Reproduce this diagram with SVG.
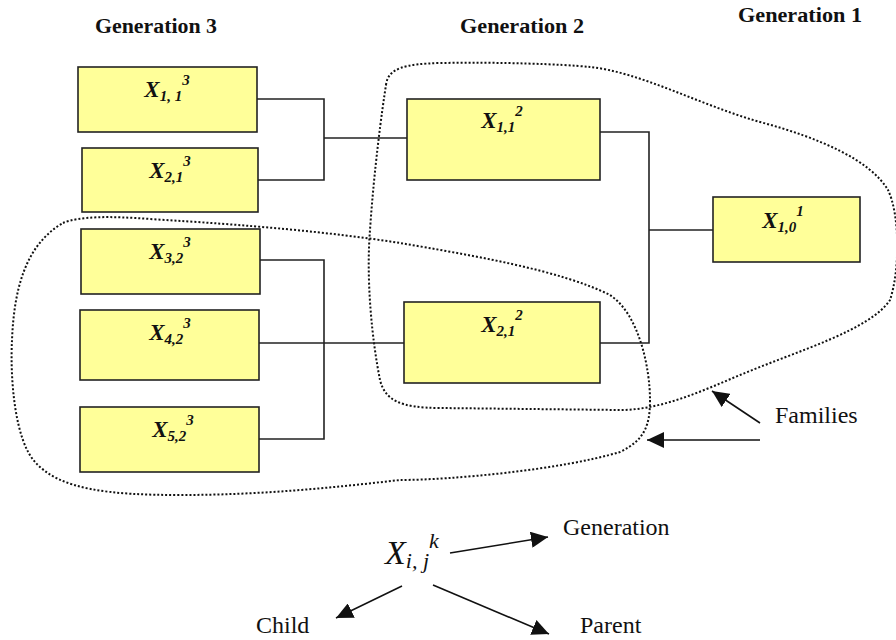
<svg xmlns="http://www.w3.org/2000/svg" width="896" height="640" viewBox="0 0 896 640">
<style>
.box{fill:#FFFF99;stroke:#222;stroke-width:1.6}
.lbl{font-family:"Liberation Serif",serif;font-weight:bold;font-style:italic;font-size:23px;fill:#111;text-anchor:middle}
.sub{font-size:15px}
.hdr{font-family:"Liberation Serif",serif;font-weight:bold;font-size:20px;fill:#111}
.txt{font-family:"Liberation Serif",serif;font-size:24px;fill:#111}
.conn{fill:none;stroke:#222;stroke-width:1.6}
.fam{fill:none;stroke:#111;stroke-width:2;stroke-dasharray:2 2}
.arr{fill:none;stroke:#111;stroke-width:1.6;marker-end:url(#ah)}
</style>
<defs>
<marker id="ah" markerUnits="userSpaceOnUse" markerWidth="18" markerHeight="16" refX="17" refY="8" orient="auto">
<path d="M0,0 L17,8 L0,16 z" fill="#111"/>
</marker>
</defs>
<rect width="896" height="640" fill="#fff"/>

<g id="headers">
<text class="hdr" x="95" y="33" textLength="122" lengthAdjust="spacingAndGlyphs">Generation 3</text>
<text class="hdr" x="460" y="33" textLength="124" lengthAdjust="spacingAndGlyphs">Generation 2</text>
<text class="hdr" x="738" y="22" textLength="124" lengthAdjust="spacingAndGlyphs">Generation 1</text>
</g>

<g id="families">
<path class="fam" d="M386,85 C388,68 405,64 440,63 C500,62 560,64 590,67 C640,72 700,105 760,122 C820,138 870,160 888,190 C900,215 900,270 890,300 C870,330 800,350 740,375 C700,392 660,410 620,410 L440,408 C400,408 385,400 380,380 C372,340 366,280 370,230 C374,170 382,110 386,85 Z"/>
<path class="fam" d="M63,223 C80,216 110,216 150,219 C250,225 330,232 400,243 C470,255 560,270 610,295 C640,315 650,370 650,400 C650,425 645,440 620,452 C560,470 450,480 400,480 C330,488 260,495 180,495 C110,495 60,490 35,462 C15,440 10,380 12,340 C14,290 25,245 63,223 Z"/>
</g>

<g id="connectors">
<path class="conn" d="M257,99 H324 V180 H258"/>
<path class="conn" d="M324,138 H407"/>
<path class="conn" d="M260,260 H324 V439 H259"/>
<path class="conn" d="M259,343 H404"/>
<path class="conn" d="M600,132 H649 V343 H600"/>
<path class="conn" d="M649,230 H713"/>
<line class="arr" x1="760" y1="423" x2="712" y2="391"/>
<line class="arr" x1="760" y1="440" x2="647" y2="440"/>
<line class="arr" x1="450" y1="553" x2="548" y2="537"/>
<line class="arr" x1="433" y1="585" x2="549" y2="634"/>
<line class="arr" x1="402" y1="586" x2="336" y2="618"/>
</g>

<g id="n-x113">
<rect class="box" x="78" y="67" width="179" height="65"/>
<text class="lbl" x="167" y="97">X<tspan class="sub" dy="4">1, 1</tspan><tspan class="sub" dy="-16">3</tspan></text>
</g>
<g id="n-x213">
<rect class="box" x="82" y="148" width="176" height="64"/>
<text class="lbl" x="170" y="178">X<tspan class="sub" dy="4">2,1</tspan><tspan class="sub" dy="-16">3</tspan></text>
</g>
<g id="n-x323">
<rect class="box" x="81" y="229" width="179" height="65"/>
<text class="lbl" x="170" y="259">X<tspan class="sub" dy="4">3,2</tspan><tspan class="sub" dy="-16">3</tspan></text>
</g>
<g id="n-x423">
<rect class="box" x="80" y="310" width="179" height="70"/>
<text class="lbl" x="170" y="340">X<tspan class="sub" dy="4">4,2</tspan><tspan class="sub" dy="-16">3</tspan></text>
</g>
<g id="n-x523">
<rect class="box" x="80" y="407" width="179" height="65"/>
<text class="lbl" x="173" y="437">X<tspan class="sub" dy="4">5,2</tspan><tspan class="sub" dy="-16">3</tspan></text>
</g>
<g id="n-x112">
<rect class="box" x="407" y="99" width="193" height="81"/>
<text class="lbl" x="502" y="128">X<tspan class="sub" dy="4">1,1</tspan><tspan class="sub" dy="-16">2</tspan></text>
</g>
<g id="n-x212">
<rect class="box" x="404" y="302" width="196" height="81"/>
<text class="lbl" x="502" y="332">X<tspan class="sub" dy="4">2,1</tspan><tspan class="sub" dy="-16">2</tspan></text>
</g>
<g id="n-x101">
<rect class="box" x="713" y="197" width="147" height="65"/>
<text class="lbl" x="783" y="228">X<tspan class="sub" dy="4">1,0</tspan><tspan class="sub" dy="-16">1</tspan></text>
</g>

<g id="legend">
<text class="txt" x="775" y="423">Families</text>
<text font-family="Liberation Serif, serif" font-style="italic" font-size="34" fill="#111" x="385" y="564">X<tspan font-size="22" dy="4">i, j</tspan><tspan font-size="22" dy="-20">k</tspan></text>
<text class="txt" x="563" y="535">Generation</text>
<text class="txt" x="580" y="633">Parent</text>
<text class="txt" x="256" y="633">Child</text>
</g>
</svg>
